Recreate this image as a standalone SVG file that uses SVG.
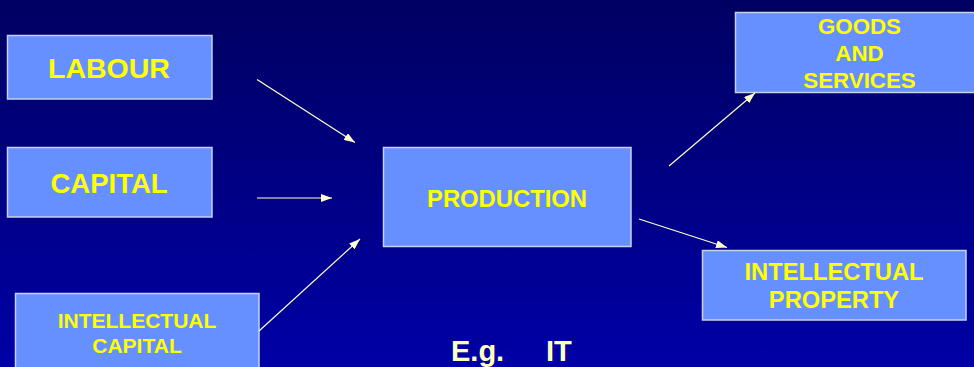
<svg xmlns="http://www.w3.org/2000/svg" width="974" height="367" viewBox="0 0 974 367">
<defs>
<linearGradient id="bg" x1="0" y1="0" x2="0" y2="1">
<stop offset="0" stop-color="#000062"/>
<stop offset="1" stop-color="#0000a6"/>
</linearGradient>
<marker id="ah" markerWidth="12" markerHeight="8" refX="11" refY="4" orient="auto" markerUnits="userSpaceOnUse">
<path d="M0,0 L11,4 L0,8 Z" fill="#ffffcc"/>
</marker>
</defs>
<style>
.box{fill:#6690ff;stroke:#c8d0ea;stroke-width:1.5}
.lbl{font-family:"Liberation Sans",Arial,sans-serif;font-weight:bold;fill:#ffff00;text-anchor:middle}
.con{stroke:#ffffcc;stroke-width:1.2;fill:none;marker-end:url(#ah)}
.eg{font-family:"Liberation Sans",Arial,sans-serif;font-weight:bold;fill:#ffffc0;font-size:29px}
</style>
<rect width="974" height="367" fill="url(#bg)"/>
<g id="labour">
<rect class="box" x="7.5" y="35.5" width="204.5" height="63.5"/>
<text class="lbl" x="109" y="78" font-size="28.5">LABOUR</text>
</g>
<g id="capital">
<rect class="box" x="7.5" y="147.5" width="204.5" height="69.5"/>
<text class="lbl" x="109" y="193" font-size="27.5">CAPITAL</text>
</g>
<g id="intellectual-capital">
<rect class="box" x="15.5" y="293.5" width="243.5" height="80"/>
<text class="lbl" x="137" y="328" font-size="21">INTELLECTUAL</text>
<text class="lbl" x="137" y="353" font-size="21">CAPITAL</text>
</g>
<g id="production">
<rect class="box" x="383.5" y="147.5" width="247.5" height="99"/>
<text class="lbl" x="507" y="206.5" font-size="23.8">PRODUCTION</text>
</g>
<g id="goods">
<rect class="box" x="735.5" y="12.5" width="245" height="80"/>
<text class="lbl" x="859.5" y="34" font-size="22.3">GOODS</text>
<text class="lbl" x="859.5" y="61" font-size="22.3">AND</text>
<text class="lbl" x="859.5" y="87.5" font-size="22.3">SERVICES</text>
</g>
<g id="intellectual-property">
<rect class="box" x="702.5" y="250.5" width="263.5" height="69.5"/>
<text class="lbl" x="834" y="280" font-size="23.7">INTELLECTUAL</text>
<text class="lbl" x="834" y="308" font-size="23.7">PROPERTY</text>
</g>
<g id="example">
<text class="eg" x="451" y="360.5">E.g.</text>
<text class="eg" x="546" y="360.5">IT</text>
</g>
<g id="connectors">
<line class="con" x1="257" y1="79.5" x2="355" y2="142.5"/>
<line class="con" x1="257" y1="198" x2="332" y2="198"/>
<line class="con" x1="259" y1="331" x2="360" y2="239"/>
<line class="con" x1="669" y1="166" x2="755" y2="93"/>
<line class="con" x1="639" y1="219" x2="727" y2="247.5"/>
</g>
</svg>
